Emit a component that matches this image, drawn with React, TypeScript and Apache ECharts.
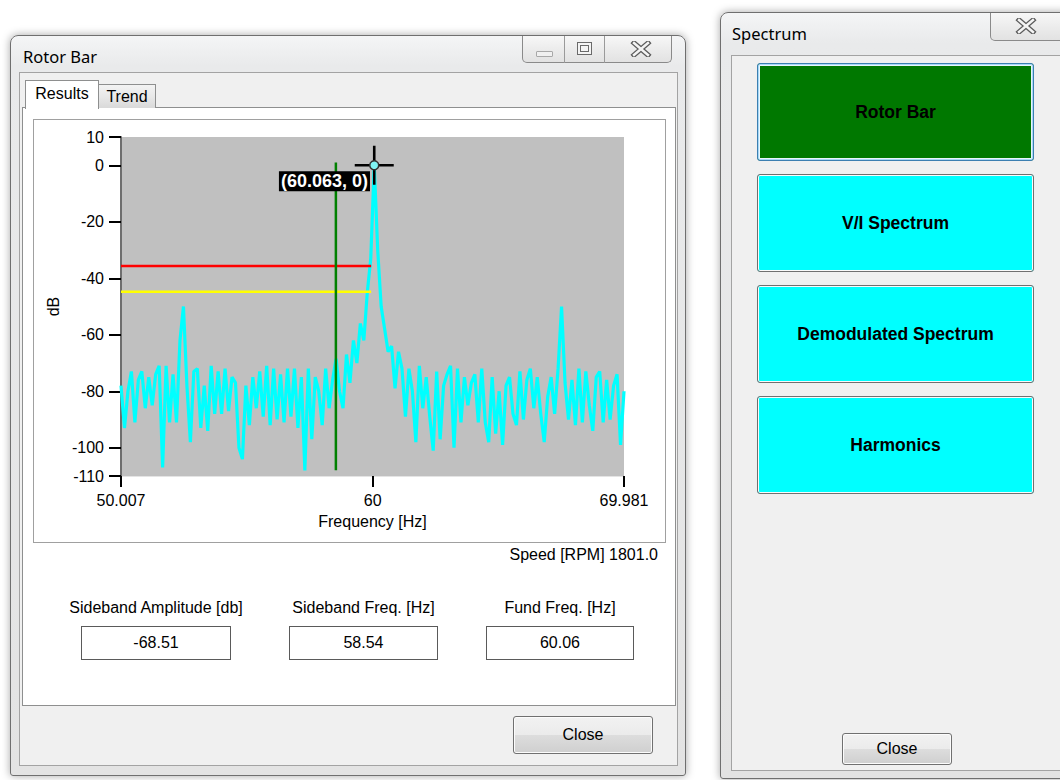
import React, { useEffect, useRef } from "react";
import * as echarts from "echarts";

// ---------- data ----------
const FREQ_START = 50.007;
const FREQ_END = 69.981;
const FREQ_STEP = 0.13775; // spectral bin width (Hz)
const SPECTRUM_DB = [
  -78, -93, -80, -73, -91, -76, -73, -86, -75, -85,
  -74, -71, -107, -71, -91, -74, -91, -62, -50, -78,
  -98, -73, -72, -93, -78, -94, -71, -88, -73, -88,
  -72, -87, -75, -77, -100, -104, -78, -92, -75, -86,
  -73, -89, -71, -92, -72, -90, -74, -91, -72, -89,
  -72, -93, -75, -108, -72, -97, -75, -80, -92, -72,
  -86, -76, -68.5, -80, -86, -67, -77, -62, -70, -56,
  -62, -45, -33, 0, -30, -50, -58, -66, -64, -79,
  -66, -72, -89, -72, -80, -98, -71, -86, -75, -89,
  -101, -73, -97, -78, -74, -71, -100, -72, -91, -75,
  -85, -77, -74, -91, -72, -91, -98, -75, -95, -80,
  -99, -78, -75, -88, -92, -73, -90, -76, -72, -86,
  -75, -88, -98, -82, -75, -88, -72, -50, -77, -90,
  -76, -92, -72, -91, -73, -85, -94, -75, -73, -91,
  -76, -90, -78, -74, -99, -80,
];
const X_TICKS = [50.007, 60, 69.981];
const Y_TICKS = [10, 0, -20, -40, -60, -80, -100, -110];
const Y_MIN = -110;
const Y_MAX = 10;
const PEAK_POINT = [60.063, 0];
const PEAK_LABEL = "(60.063, 0)";
const SIDEBAND_FREQ = 58.54;
const SIDEBAND_MARK_RANGE = [1, -108];
const RED_LIMIT_DB = -35.7;
const YELLOW_LIMIT_DB = -44.8;
const LIMIT_END_FREQ = 59.94;

const RESULT_LABELS = ["Sideband Amplitude [db]", "Sideband Freq. [Hz]", "Fund Freq. [Hz]"];
const RESULT_VALUES = ["-68.51", "58.54", "60.06"];
const SPEED_TEXT = "Speed [RPM] 1801.0";
const SPECTRUM_BUTTONS = ["Rotor Bar", "V/I Spectrum", "Demodulated Spectrum", "Harmonics"];

// ---------- styles ----------
const FONT = "'Liberation Sans', Arial, Helvetica, sans-serif";
const TITLE_FONT = "'Noto Sans', 'Open Sans', sans-serif";
const WIN_BTN_BG = "linear-gradient(180deg, #f2f2f2 0%, #ebebeb 49%, #dddddd 50%, #cfcfcf 100%)";

const abs = (l: number, t: number, w: number, h: number, extra: any = {}): React.CSSProperties => ({
  position: "absolute",
  left: l,
  top: t,
  width: w,
  height: h,
  boxSizing: "border-box",
  ...extra,
});

function SpectrumChart() {
  const ref = useRef<HTMLDivElement>(null);
  useEffect(() => {
    if (!ref.current) return;
    const chart = echarts.init(ref.current, null, { renderer: "svg" });
    const spectrum = SPECTRUM_DB.map((v, i) => [FREQ_START + i * FREQ_STEP, v]);
    const fmt = (v: number) => String(Math.round(v * 1000) / 1000);
    chart.setOption({
      animation: false,
      textStyle: { fontFamily: FONT },
      grid: {
        left: 88,
        top: 18,
        width: 503,
        height: 339,
        show: true,
        backgroundColor: "#c0c0c0",
        borderWidth: 0,
      },
      xAxis: {
        type: "value",
        min: FREQ_START,
        max: FREQ_END,
        name: "Frequency [Hz]",
        nameLocation: "middle",
        nameGap: 37,
        nameTextStyle: { fontSize: 16, color: "#000", fontFamily: FONT },
        axisLine: { show: true, onZero: false, lineStyle: { color: "#e4e4e4", width: 1 } },
        axisTick: { show: true, customValues: X_TICKS, length: 11, lineStyle: { color: "#000", width: 2 } },
        axisLabel: { customValues: X_TICKS, formatter: fmt, fontSize: 16, color: "#000", margin: 16, fontFamily: FONT },
        splitLine: { show: false },
      },
      yAxis: {
        type: "value",
        min: Y_MIN,
        max: Y_MAX,
        name: "dB",
        nameLocation: "middle",
        nameGap: 53,
        nameTextStyle: { fontSize: 16, color: "#000", fontFamily: FONT },
        axisLine: { show: true, onZero: false, lineStyle: { color: "#6e6e6e", width: 2 } },
        axisTick: { show: true, customValues: Y_TICKS, length: 12, lineStyle: { color: "#000", width: 2 } },
        axisLabel: { customValues: Y_TICKS, fontSize: 16, color: "#000", margin: 17, fontFamily: FONT },
        splitLine: { show: false },
      },
      series: [
        {
          type: "line",
          data: spectrum,
          symbol: "none",
          silent: true,
          z: 2,
          lineStyle: { color: "#00ffff", width: 3.2, join: "bevel" },
        },
        {
          type: "line",
          data: [[FREQ_START, RED_LIMIT_DB], [LIMIT_END_FREQ, RED_LIMIT_DB]],
          symbol: "none",
          silent: true,
          z: 3,
          lineStyle: { color: "#ff0000", width: 2.5 },
        },
        {
          type: "line",
          data: [[FREQ_START, YELLOW_LIMIT_DB], [LIMIT_END_FREQ, YELLOW_LIMIT_DB]],
          symbol: "none",
          silent: true,
          z: 3,
          lineStyle: { color: "#ffff00", width: 2.5 },
        },
        {
          type: "line",
          data: [[SIDEBAND_FREQ, SIDEBAND_MARK_RANGE[0]], [SIDEBAND_FREQ, SIDEBAND_MARK_RANGE[1]]],
          symbol: "none",
          silent: true,
          z: 4,
          lineStyle: { color: "#008000", width: 2.5 },
        },
        {
          type: "scatter",
          data: [PEAK_POINT],
          symbol: "path://M0,18.3H39V20.7H0Z M18.2,0H20.8V39H18.2Z",
          symbolSize: 39,
          silent: true,
          clip: false,
          z: 5,
          itemStyle: { color: "#000", opacity: 1 },
          emphasis: { disabled: true },
        },
        {
          type: "scatter",
          data: [PEAK_POINT],
          symbol: "circle",
          symbolSize: 9,
          silent: true,
          clip: false,
          z: 6,
          itemStyle: { color: "#7ff4f4", borderColor: "#303030", borderWidth: 1.5, opacity: 1 },
          emphasis: { disabled: true },
          label: {
            show: true,
            formatter: PEAK_LABEL,
            position: "left",
            distance: 0,
            offset: [1, 16],
            color: "#ffffff",
            opacity: 1,
            backgroundColor: "#000000",
            fontWeight: "bold",
            fontSize: 18,
            fontFamily: FONT,
            lineHeight: 20,
            padding: [0, 2],
          },
        },
      ],
    });
    return () => chart.dispose();
  }, []);
  return <div ref={ref} style={abs(33, 119, 633, 424)} />;
}

function CloseGlyph({ left, top }: { left: number; top: number }) {
  return (
    <svg style={{ position: "absolute", left, top }} width="22" height="16" viewBox="0 0 22 16">
      <path d="M4 2 L18 14 M18 2 L4 14" stroke="#5c5c5c" strokeWidth="5" strokeLinecap="square" />
      <path d="M4 2 L18 14 M18 2 L4 14" stroke="#f4f4f4" strokeWidth="2.4" strokeLinecap="square" />
    </svg>
  );
}

function WinButton({ l, t, w, h, text }: { l: number; t: number; w: number; h: number; text: string }) {
  return (
    <div
      style={abs(l, t, w, h, {
        border: "1px solid #707070",
        borderRadius: 3,
        background: WIN_BTN_BG,
        boxShadow: "inset 0 0 0 1px #fcfcfc",
        display: "flex",
        alignItems: "center",
        justifyContent: "center",
        fontFamily: FONT,
        fontSize: 16,
        color: "#000",
      })}
    >
      {text}
    </div>
  );
}

export default function App() {
  const resultLeft = [81, 289, 486];
  const resultWidth = [150, 149, 148];
  const btnTops = [63, 174, 285, 396];
  return (
    <div
      style={{
        position: "fixed",
        left: 0,
        top: 0,
        width: 1060,
        height: 780,
        background: "#ffffff",
        overflow: "hidden",
        fontFamily: FONT,
      }}
    >
      {/* ================= Window 1: Rotor Bar ================= */}
      <div
        style={abs(10, 35, 676, 741, {
          border: "1px solid #6f6f6f",
          borderRadius: "8px 8px 3px 3px",
          background: "linear-gradient(180deg, #f4f5f6 0%, #e9eaeb 30px, #e3e3e3 100%)",
          boxShadow: "0 0 9px rgba(0,0,0,0.35)",
        })}
      />
      <div style={abs(23, 45, 200, 24, { fontFamily: TITLE_FONT, fontSize: 16.5, lineHeight: "24px", color: "#000" })}>
        Rotor Bar
      </div>
      {/* caption buttons */}
      <div
        style={abs(522, 36, 150, 27, {
          border: "1px solid #8a8a8a",
          borderTop: "none",
          borderRadius: "0 0 5px 5px",
          background: "linear-gradient(180deg, #f7f7f7 0%, #ececec 50%, #e2e2e2 100%)",
        })}
      />
      <div style={abs(564, 36, 1, 27, { background: "#9a9a9a" })} />
      <div style={abs(604, 36, 1, 27, { background: "#9a9a9a" })} />
      <div style={abs(536, 51, 17, 6, { border: "1px solid #a8a8a8", background: "#f0f0f0", borderRadius: 1 })} />
      <div style={abs(577, 42, 15, 13, { border: "1px solid #6a6a6a", background: "#f4f4f4" })} />
      <div style={abs(580, 45, 9, 7, { border: "1px solid #6a6a6a" })} />
      <CloseGlyph left={630} top={41} />

      {/* client */}
      <div style={abs(19, 72, 659, 694, { background: "#f0f0f0", border: "1px solid #a3a3a3" })} />
      {/* tab page */}
      <div style={abs(22, 107, 654, 599, { background: "#ffffff", border: "1px solid #8e8f8f" })} />
      <div
        style={abs(98, 84, 58, 24, {
          border: "1px solid #8e8f8f",
          borderBottom: "none",
          background: "linear-gradient(180deg, #f3f3f3 0%, #e8e8e8 50%, #d9d9d9 100%)",
          fontSize: 16,
          lineHeight: "23px",
          textAlign: "center",
          color: "#000",
        })}
      >
        Trend
      </div>
      <div
        style={abs(25, 80, 74, 29, {
          border: "1px solid #8e8f8f",
          borderBottom: "none",
          background: "#ffffff",
          fontSize: 16,
          lineHeight: "26px",
          textAlign: "center",
          color: "#000",
        })}
      >
        Results
      </div>

      {/* chart panel */}
      <div style={abs(33, 119, 633, 424, { border: "1px solid #a0a0a0", background: "#ffffff" })} />
      <SpectrumChart />

      <div style={abs(400, 545, 258, 20, { textAlign: "right", fontSize: 16, lineHeight: "20px", color: "#000" })}>
        {SPEED_TEXT}
      </div>

      {RESULT_LABELS.map((lab, i) => (
        <div
          key={lab}
          style={abs(resultLeft[i] + resultWidth[i] / 2 - 110, 598, 220, 20, {
            textAlign: "center",
            fontSize: 16,
            lineHeight: "20px",
            color: "#000",
          })}
        >
          {lab}
        </div>
      ))}
      {RESULT_VALUES.map((val, i) => (
        <div
          key={i}
          style={abs(resultLeft[i], 626, resultWidth[i], 34, {
            border: "1px solid #5a5a5a",
            background: "#ffffff",
            textAlign: "center",
            fontSize: 16,
            lineHeight: "32px",
            color: "#000",
          })}
        >
          {val}
        </div>
      ))}

      <WinButton l={513} t={716} w={140} h={38} text="Close" />

      {/* ================= Window 2: Spectrum ================= */}
      <div
        style={abs(720, 12, 360, 767, {
          border: "1px solid #6f6f6f",
          borderRadius: "8px 8px 3px 3px",
          background: "linear-gradient(180deg, #f4f5f6 0%, #e9eaeb 30px, #e3e3e3 100%)",
          boxShadow: "0 0 9px rgba(0,0,0,0.35)",
        })}
      />
      <div style={abs(732, 22, 200, 24, { fontFamily: TITLE_FONT, fontSize: 16.5, lineHeight: "24px", color: "#000" })}>
        Spectrum
      </div>
      <div
        style={abs(990, 13, 80, 28, {
          border: "1px solid #8a8a8a",
          borderTop: "none",
          borderRadius: "0 0 5px 5px",
          background: "linear-gradient(180deg, #f7f7f7 0%, #ececec 50%, #e2e2e2 100%)",
        })}
      />
      <CloseGlyph left={1015} top={18} />
      <div style={abs(731, 55, 340, 716, { background: "#f0f0f0", border: "1px solid #a3a3a3" })} />

      {SPECTRUM_BUTTONS.map((name, i) => {
        const first = i === 0;
        return (
          <div
            key={name}
            style={abs(757, btnTops[i], 277, 98, {
              border: first ? "1px solid #3c7fb1" : "1px solid #707070",
              borderRadius: 3,
              background: first ? "#007800" : "#00ffff",
              boxShadow: first ? "inset 0 0 0 1px #a6d8f6, inset 0 0 0 2px #e8f5fc" : "inset 0 0 0 1px #fafafa",
              display: "flex",
              alignItems: "center",
              justifyContent: "center",
              fontFamily: FONT,
              fontWeight: "bold",
              fontSize: 17.5,
              color: "#000",
            })}
          >
            {name}
          </div>
        );
      })}

      <WinButton l={842} t={733} w={110} h={32} text="Close" />
    </div>
  );
}
